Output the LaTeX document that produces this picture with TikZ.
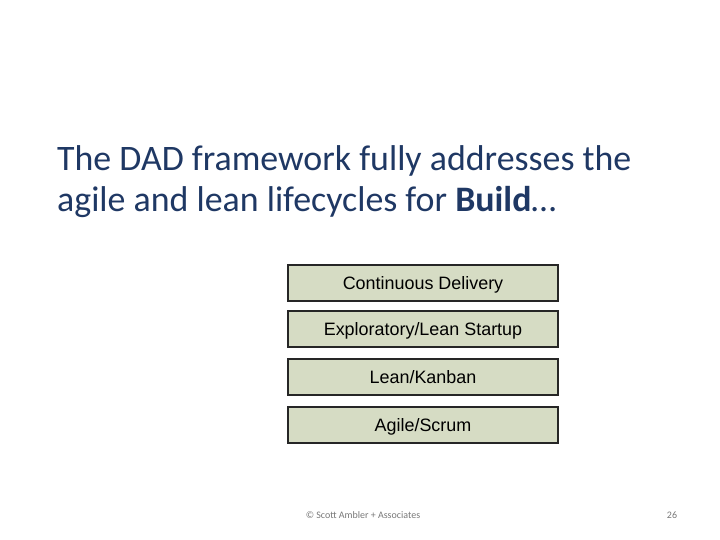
\documentclass[tikz,border=0pt]{standalone}
\usepackage{fontspec}
\setmainfont{Carlito}
\newfontfamily\boxfont{Liberation Sans}
\usetikzlibrary{positioning}

\definecolor{titleblue}{RGB}{31,56,100}
\definecolor{boxfill}{RGB}{214,220,196}
\definecolor{footgray}{RGB}{120,120,120}

\tikzset{
    stagebox/.style={draw=black!85, line width=1.8bp, fill=boxfill,
        minimum width=270bp, minimum height=36bp, inner sep=0pt,
        text height=12.9bp, text depth=0pt,
        font=\boxfont\fontsize{18}{21}\selectfont},
    foot/.style={text=footgray, inner sep=0pt, font=\fontsize{10}{12}\selectfont}
}

\begin{document}
\begin{tikzpicture}[x=1bp, y=-1bp]
    % Rahmen der Folie
    \useasboundingbox (0,0) rectangle (720,540);

    % Titel
    \node[anchor=base west, align=left, inner sep=0pt, text=titleblue,
          font=\fontsize{36}{42}\selectfont] (title) at (57,212)
        {The DAD framework fully addresses the\\agile and lean lifecycles for \textbf{Build}\ldots};

    % Lebenszyklen
    \node[stagebox] (cd)     at (423,283) {Continuous Delivery};
    \node[stagebox] (lean)   at (423,329) {Exploratory/Lean Startup};
    \node[stagebox] (kanban) at (423,377) {Lean/Kanban};
    \node[stagebox] (scrum)  at (423,425) {Agile/Scrum};

    % Fusszeile
    \node[foot, anchor=base] (copy) at (363,518) {\textcopyright{} Scott Ambler + Associates};
    \node[foot, anchor=base] (page) at (672,518) {26};
\end{tikzpicture}
\end{document}
